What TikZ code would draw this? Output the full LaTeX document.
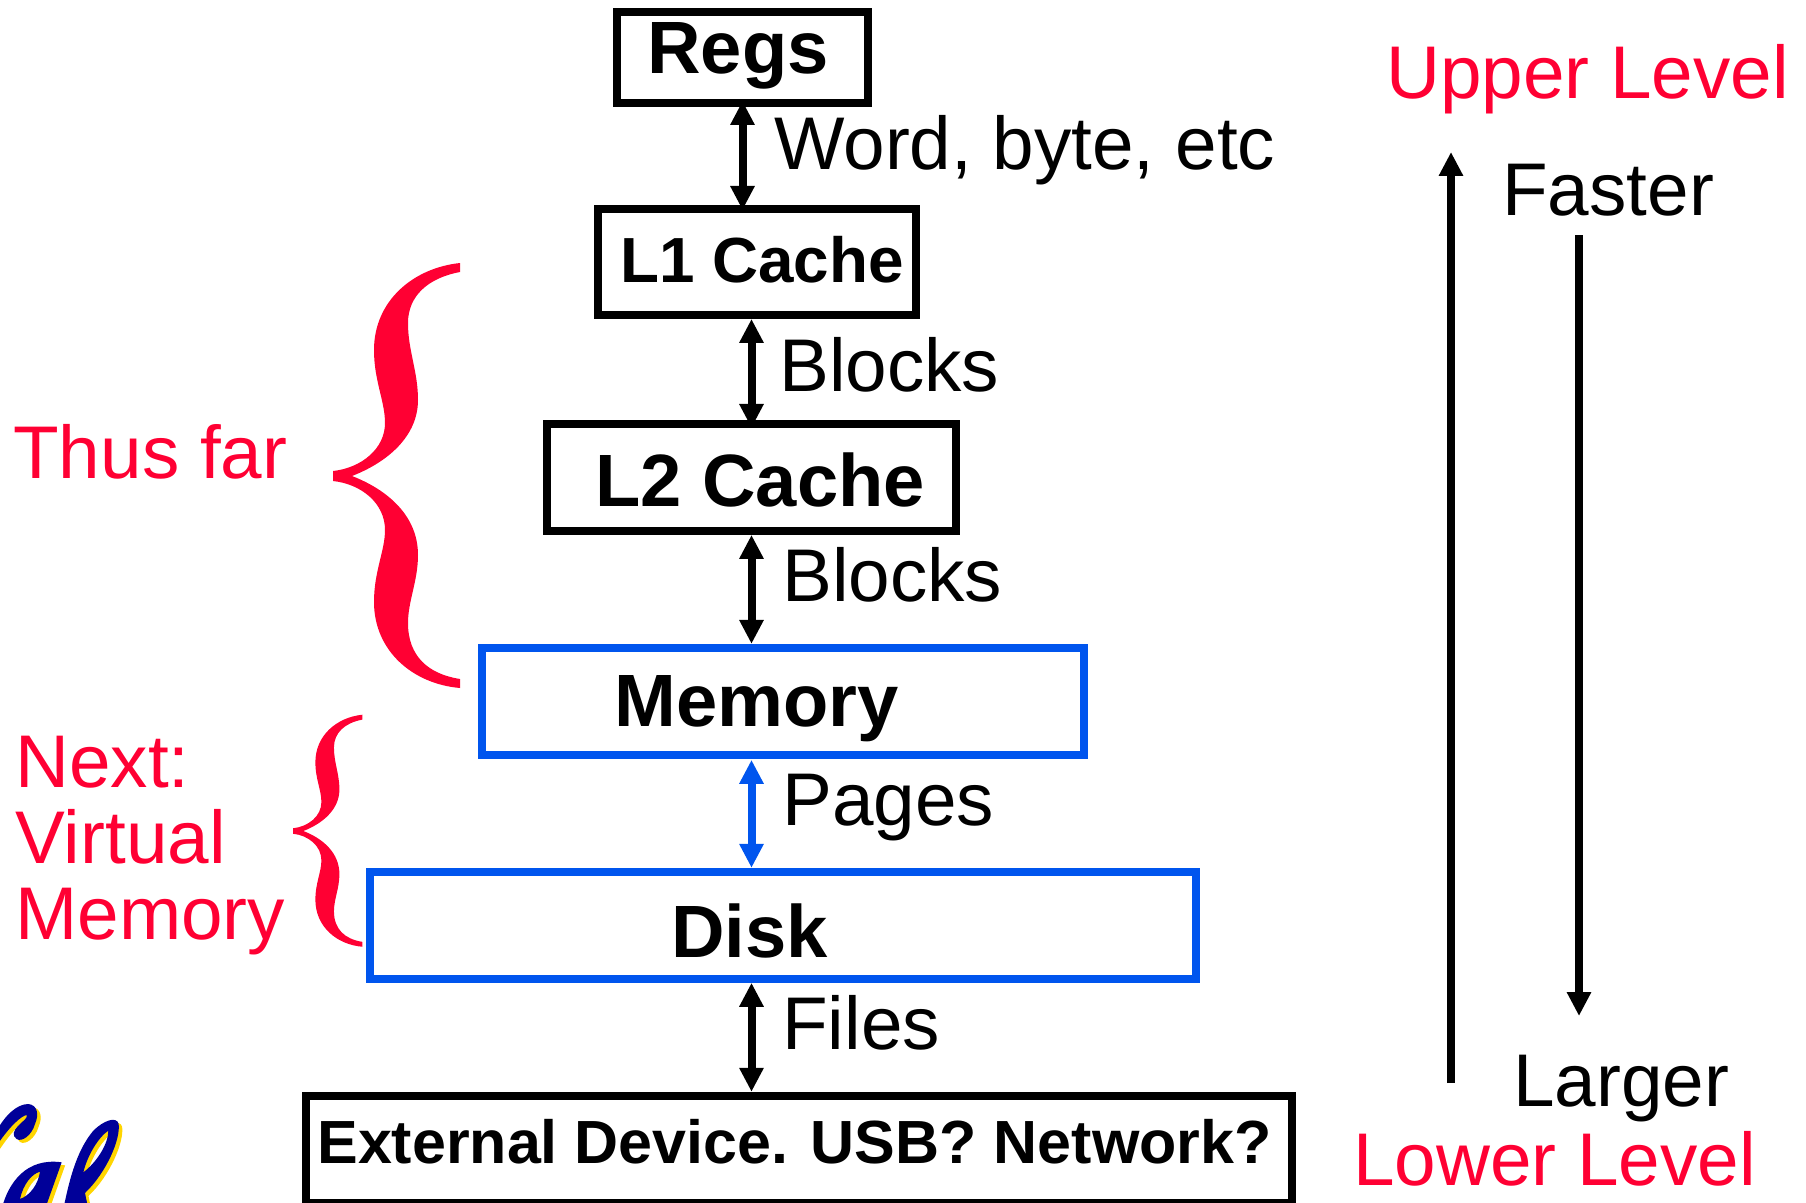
\documentclass[tikz,border=0pt]{standalone}
\usepackage{fontspec}
\setmainfont{Liberation Sans}
\usetikzlibrary{arrows.meta}
\definecolor{calred}{HTML}{FF0033}
\definecolor{calblue}{HTML}{0055EE}
\definecolor{logoblue}{HTML}{000099}
\definecolor{logoyellow}{HTML}{FFD500}
\begin{document}
\begin{tikzpicture}[
    x=0.02cm, y=-0.02cm,
    node distance=4cm,
    level/.style={rectangle, draw, line width=0.16cm, inner sep=0pt},
    blackbox/.style={level, draw=black},
    bluebox/.style={level, draw=calblue},
    boxtext/.style={anchor=base west, inner sep=0pt, font=\fontsize{42.2}{42}\selectfont\bfseries},
    smallboxtext/.style={boxtext, font=\fontsize{36.3}{36}\selectfont\bfseries},
    tinyboxtext/.style={boxtext, font=\fontsize{34.7}{36}\selectfont\bfseries},
    word/.style={anchor=base west, inner sep=0pt, font=\fontsize{42.5}{43}\selectfont},
    redword/.style={word, text=calred},
    link/.style={line width=0.16cm, {Triangle[length=0.48cm,width=0.46cm]}-{Triangle[length=0.48cm,width=0.46cm]}},
    trend/.style={line width=0.16cm, -{Triangle[length=0.48cm,width=0.46cm]}},
    curly/.pic={
        \path[pic actions] (0,-5) .. controls (28,-8) and (52,-27) .. (52,-53)
            .. controls (52,-75) and (41,-95) .. (41,-126)
            .. controls (41,-175) and (80,-208) .. (127,-213) -- (127,-204)
            .. controls (95,-198) and (75,-180) .. (75,-153)
            .. controls (75,-125) and (85,-105) .. (85,-76)
            .. controls (85,-40) and (55,-14) .. (19,0)
            .. controls (55,14) and (85,40) .. (85,79)
            .. controls (85,105) and (75,125) .. (75,147)
            .. controls (75,180) and (95,198) .. (127,203) -- (127,212)
            .. controls (80,208) and (41,175) .. (41,126)
            .. controls (41,95) and (52,75) .. (52,54)
            .. controls (52,27) and (28,8) .. (0,5) -- cycle;
    },
    calscript/.pic={
        \path[pic actions, even odd rule]
            (-10,215) .. controls (15,170) and (50,135) .. (85,135)
            .. controls (112,138) and (118,165) .. (105,195)
            .. controls (95,230) and (65,250) .. (50,240)
            .. controls (35,230) and (40,215) .. (55,200)
            .. controls (70,185) and (85,175) .. (80,168)
            .. controls (65,170) and (30,200) .. (-10,260) -- cycle
            (5,450) .. controls (25,370) and (80,295) .. (185,310)
            -- (135,450) -- cycle
            (60,420) .. controls (70,375) and (95,345) .. (120,338)
            .. controls (115,375) and (90,410) .. (60,420) -- cycle
            (190,450) .. controls (205,380) and (225,280) .. (280,215)
            .. controls (310,185) and (350,170) .. (356,195)
            .. controls (362,240) and (320,340) .. (255,402)
            -- (265,450) -- cycle
            (250,340) .. controls (262,290) and (295,235) .. (325,215)
            .. controls (325,255) and (290,310) .. (250,340) -- cycle;
    }
]
    \useasboundingbox (0,0) rectangle (1806,1203);

    % Hierarchy levels
    \node [blackbox, minimum width=5.02cm, minimum height=1.82cm] (regs) at (742.5,57.5) {};
    \node [blackbox, minimum width=6.36cm, minimum height=2.12cm, below of=regs, xshift=0.29cm, yshift=-0.09cm] (l1) {};
    \node [blackbox, minimum width=8.18cm, minimum height=2.14cm, below of=l1, xshift=-0.11cm, yshift=-0.31cm] (l2) {};
    \node [bluebox, minimum width=12.04cm, minimum height=2.14cm, below of=l2, xshift=0.63cm, yshift=-0.48cm] (memory) {};
    \node [bluebox, minimum width=16.52cm, minimum height=2.14cm, below of=memory, yshift=-0.48cm] (disk) {};
    \node [blackbox, minimum width=19.72cm, minimum height=2.14cm, below of=disk, xshift=0.32cm, yshift=-0.48cm] (external) {};

    % Text in the levels
    \node [boxtext] (regstext) at (647,74) {Regs};
    \node [smallboxtext] (l1text) at (620,282) {L1 Cache};
    \node [boxtext] (l2text) at (595,506) {L2 Cache};
    \node [boxtext] (memorytext) at (614,726) {Memory};
    \node [boxtext] (disktext) at (671,957) {Disk};
    \node [tinyboxtext] (externaltext) at (317,1163) {External Device. USB? Network?};

    % Arrows between levels
    \draw [link, shorten <=-0.12cm, shorten >=-0.1cm] (regs.south) -- (regs.south |- l1.north);
    \draw [link, shorten >=-0.16cm] (l2.north |- l1.south) -- (l2.north);
    \draw [link] (l2.south) -- (l2.south |- memory.north);
    \draw [link, calblue, shorten <=0.02cm] (l2.south |- memory.south) -- (l2.south |- disk.north);
    \draw [link] (l2.south |- disk.south) -- (l2.south |- external.north);

    % Arrow labels
    \node [word] (wordlabel) at (774,170) {Word, byte, etc};
    \node [word] (blocksupper) at (779,391) {Blocks};
    \node [word] (blockslower) at (782,601) {Blocks};
    \node [word] (pageslabel) at (782,825) {Pages};
    \node [word] (fileslabel) at (782,1049) {Files};

    % Left side
    \node [redword] (thusfar) at (13,478) {Thus far};
    \node [redword, align=left] (next) at (15,939) {Next:\\Virtual\\Memory};
    \pic [fill=calred] at (333,476) {curly};
    \pic [fill=calred, scale=0.546] at (293,831) {curly};

    % Right side
    \node [redword] (upperlevel) at (1386,99) {Upper Level};
    \node [word] (faster) at (1502,215) {Faster};
    \node [word] (larger) at (1513,1106) {Larger};
    \node [redword] (lowerlevel) at (1353,1185) {Lower Level};
    \coordinate (upstart) at (1451,1083);
    \coordinate (upend) at (1451,152);
    \coordinate (downstart) at (1579,235);
    \coordinate (downend) at (1579,1016);
    \draw [trend] (upstart) -- (upend);
    \draw [trend] (downstart) -- (downend);

    % Logo
    \pic [fill=logoyellow, scale=1/3] at (3.5,1062) {calscript};
    \pic [fill=logoblue, scale=1/3] at (0,1059) {calscript};
\end{tikzpicture}
\end{document}
